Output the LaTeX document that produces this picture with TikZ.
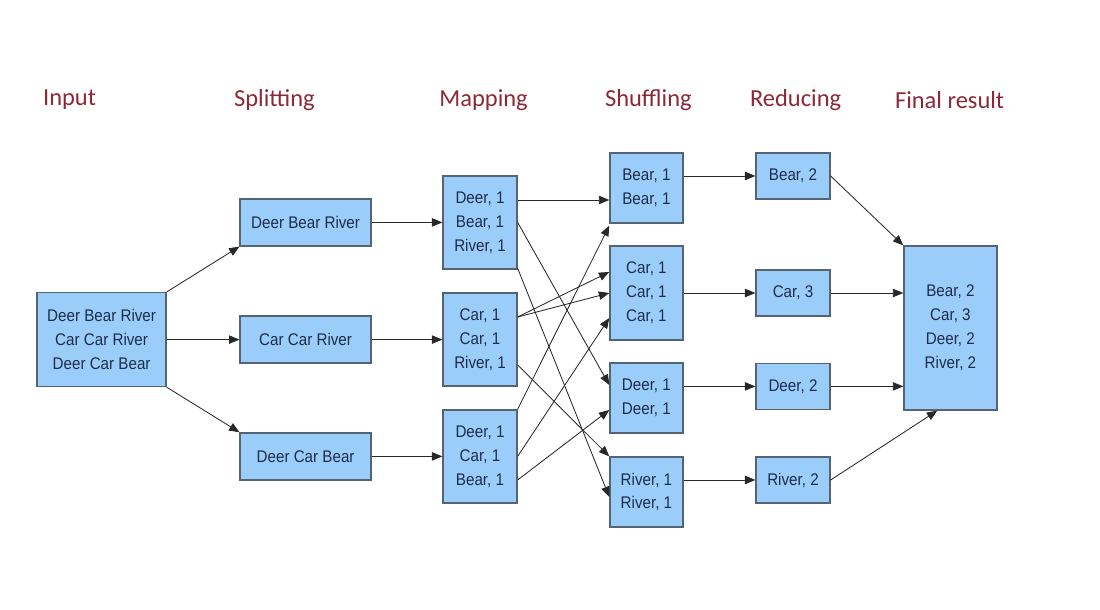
\documentclass[tikz,border=0pt]{standalone}
\usepackage{fontspec}
\setmainfont{Liberation Sans}
\newfontfamily\boxfont{Liberation Sans}[FakeStretch=0.9]
\newfontfamily\headfont{Carlito}
\usepackage{tikz}
\usetikzlibrary{calc,arrows.meta,positioning}
\definecolor{boxfill}{RGB}{155,205,250}
\definecolor{boxline}{RGB}{85,100,115}
\definecolor{boxtext}{RGB}{30,45,75}
\definecolor{headred}{RGB}{140,40,55}
\definecolor{wire}{RGB}{40,40,40}

\begin{document}
\begin{tikzpicture}[
	box/.style={draw=boxline,fill=boxfill,text=boxtext,line width=0.9pt,align=center,inner sep=0pt,font=\boxfont\fontsize{12}{17}\selectfont},
	head/.style={text=headred,font=\headfont\fontsize{17.4}{20}\selectfont},
	arr/.style={-{Triangle[length=2.6mm,width=2.1mm]},draw=wire,line width=0.6pt}]
	\useasboundingbox (0,0) rectangle (27.5,15.25);
	
	% column titles
	\foreach \i/\x/\t in {1/1.74/Input,2/6.86/Splitting,3/12.09/Mapping,4/16.21/Shuffling,5/19.89/Reducing,6/23.74/Final result}
	\node[head] (head\i) at (\x,12.75) {\t};
	
	\node[box,minimum width=3.225cm,minimum height=2.35cm] (in) at (2.54,6.76) {Deer Bear River\\Car Car River\\Deer Car Bear};
	
	\foreach \i/\y/\t in {1/9.69/Deer Bear River,2/6.76/Car Car River,3/3.84/Deer Car Bear}
	\node[box,minimum width=3.275cm,minimum height=1.175cm] (sp\i) at (7.64,\y) {\t};
	
	\node[box,minimum width=1.85cm,minimum height=2.325cm] (m1) at (12,9.69) {Deer, 1\\Bear, 1\\River, 1};
	\node[box,minimum width=1.85cm,minimum height=2.325cm] (m2) at (12,6.76) {Car, 1\\Car, 1\\River, 1};
	\node[box,minimum width=1.85cm,minimum height=2.325cm] (m3) at (12,3.84) {Deer, 1\\Car, 1\\Bear, 1};
	
	\node[box,minimum width=1.825cm,minimum height=1.75cm] (sh1) at (16.16,10.55) {Bear, 1\\Bear, 1};
	\node[box,minimum width=1.825cm,minimum height=2.35cm] (sh2) at (16.16,7.925) {Car, 1\\Car, 1\\Car, 1};
	\node[box,minimum width=1.825cm,minimum height=1.75cm] (sh3) at (16.16,5.3) {Deer, 1\\Deer, 1};
	\node[box,minimum width=1.825cm,minimum height=1.75cm] (sh4) at (16.16,2.95) {River, 1\\River, 1};
	
	\foreach \i/\y/\t in {1/10.85/{Bear, 2},2/7.925/{Car, 3},3/5.59/{Deer, 2},4/3.25/{River, 2}}
	\node[box,minimum width=1.85cm,minimum height=1.15cm] (r\i) at (19.825,\y) {\t};
	
	\node[box,minimum width=2.325cm,minimum height=4.1cm] (fin) at (23.76,7.05) {Bear, 2\\Car, 3\\Deer, 2\\River, 2};
	
	% input -> splitting -> mapping
	\draw[arr] (in.north east) -- (sp1.south west);
	\draw[arr] (in.east) -- (sp2.west);
	\draw[arr] (in.south east) -- (sp3.north west);
	\foreach \i in {1,2,3}
	\draw[arr] (sp\i.east) -- (m\i.west);
	
	% mapping -> shuffling
	\coordinate (ma) at ([yshift=0.56cm]m1.east);
	\draw[arr] (ma) -- (ma -| sh1.west);
	\draw[arr] (m1.east) -- ([yshift=0.325cm]sh3.west);
	\draw[arr] ([yshift=0.03cm]m1.south east) -- ([yshift=-0.125cm]sh4.west);
	\draw[arr] ([yshift=0.565cm]m2.east) -- ([yshift=0.525cm]sh2.west);
	\draw[arr] ([yshift=0.565cm]m2.east) -- (sh2.west);
	\draw[arr] ([yshift=-0.635cm]m2.east) -- (sh4.north west);
	\draw[arr] (m3.north east) -- ([yshift=-0.05cm]sh1.south west);
	\draw[arr] (m3.east) -- ([yshift=-0.625cm]sh2.west);
	\draw[arr] ([yshift=-0.59cm]m3.east) -- ([yshift=-0.3cm]sh3.west);
	
	% shuffling -> reducing
	\foreach \i in {1,...,4}
	\draw[arr] (r\i.west -| sh\i.east) -- (r\i.west);
	
	% reducing -> final result
	\draw[arr] (r1.east) -- (fin.north west);
	\draw[arr] (r2.east) -- (r2.east -| fin.west);
	\draw[arr] (r3.east) -- (r3.east -| fin.west);
	\draw[arr] (r4.east) -- ([xshift=0.85cm]fin.south west);
\end{tikzpicture}
\end{document}
